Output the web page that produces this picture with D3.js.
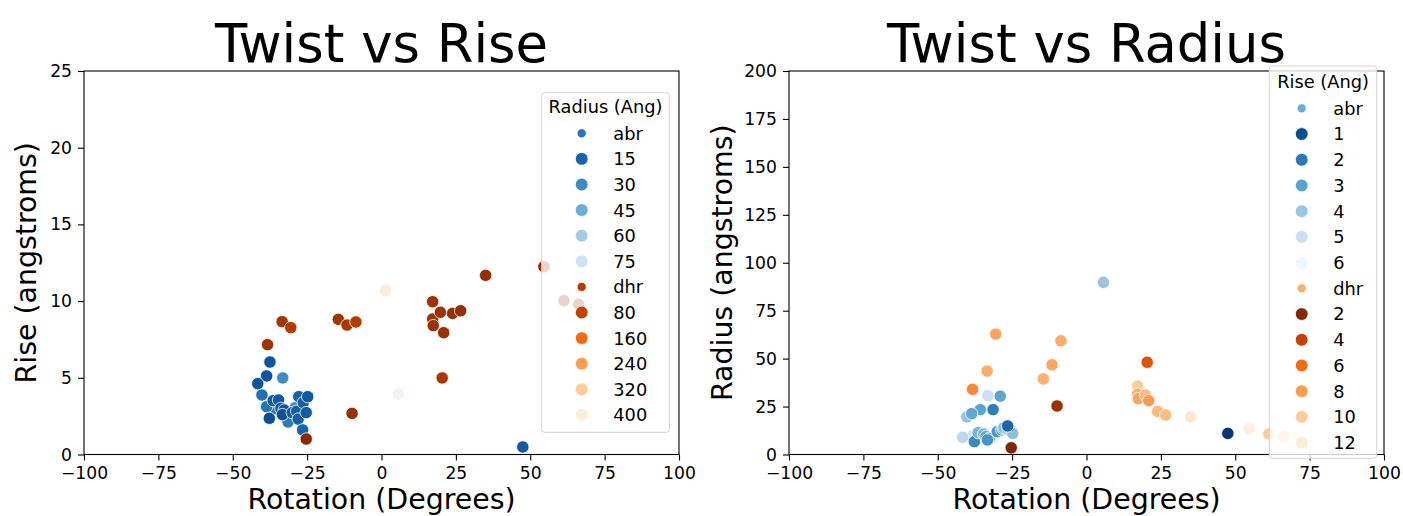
<!DOCTYPE html>
<html><head><meta charset="utf-8">
<script src="https://cdn.jsdelivr.net/npm/d3@7"></script>
<style>
body{margin:0;background:#fff}
svg text{font-family:"DejaVu Sans",sans-serif;fill:#000}
</style>
</head><body>
<svg id="c" width="1403" height="516"></svg>
<script>
// ---- data ----
const abrRotation = [-29.0,-35.7,-33.2,-40.2,-38.6,-31.4,-37.5,-38.6,-41.6,-37.7,-36.4,-34.6,-33.8,-32.7,-33.3,-30.0,-28.5,-28.0,-27.8,-26.3,-25.3,-24.8,-26.5,5.7,47.5];
const abrRise     = [3.05,3.0,4.99,3.88,3.12,2.12,6.03,5.12,4.62,2.36,3.51,3.55,3.01,2.9,2.6,2.73,2.82,2.31,3.77,3.38,2.73,3.77,1.6,3.94,0.49];
const abrRadius   = [30.4,23.4,30.7,19.6,21.3,23.4,8.4,9.5,9.0,6.7,11.4,10.7,9.3,8.4,7.6,11.9,12.8,13.5,14.0,13.0,12.0,11.0,14.9,89.8,11.0];

const dhrRotation = [-38.3,-33.4,-30.5,-14.5,-11.6,-8.6,-9.9,-25.3,17.2,17.2,17.4,19.8,20.9,23.9,26.6,20.4,35.0,54.6,61.3,66.3,1.4];
const dhrRise     = [7.16,8.66,8.27,8.81,8.44,8.64,2.68,1.01,9.96,8.83,8.4,9.27,7.94,9.2,9.37,4.99,11.68,12.24,10.03,9.79,10.68];
const dhrRadius   = [34.0,43.5,62.8,39.4,46.8,59.3,25.3,3.5,35.7,31.5,29.1,31.0,28.1,22.5,20.6,48.1,19.6,13.5,10.7,9.3,400];

const xTicks = [-100,-75,-50,-25,0,25,50,75,100];
const riseTicks = [0,5,10,15,20,25];
const radiusTicks = [0,25,50,75,100,125,150,175,200];
const radiusLegendAbr = [15,30,45,60,75];
const radiusLegendDhr = [80,160,240,320,400];
const riseLegendAbr = [1,2,3,4,5,6];
const riseLegendDhr = [2,4,6,8,10,12];

// ---- colour scales ----
const tRadAbr = d3.scaleLinear().domain([0,95]).range([0.95,0]).clamp(true);
const tRadDhr = d3.scaleLinear().domain([0,435]).range([0.98,0]).clamp(true);
const tRiseAbr = d3.scaleLinear().domain([0.353,6.235]).range([1,0]).clamp(true);
const tRiseDhr = d3.scaleLinear().domain([1.778,12.89]).range([1,0]).clamp(true);
const colRadAbr = v => d3.interpolateBlues(tRadAbr(v));
const colRadDhr = v => d3.interpolateOranges(tRadDhr(v));
const colRiseAbr = v => d3.interpolateBlues(tRiseAbr(v));
const colRiseDhr = v => d3.interpolateOranges(tRiseDhr(v));

const svg = d3.select("#c");
const plotTop = 71, plotBottom = 454.5;

function panel(cfg){
  const x = d3.scaleLinear().domain([-100,100]).range([cfg.x0,cfg.x1]);
  const y = d3.scaleLinear().domain(cfg.yDomain).range([plotBottom,plotTop]);
  const g = svg.append("g");
  const clipId = "clip"+cfg.id;
  g.append("clipPath").attr("id",clipId).append("rect")
    .attr("x",cfg.x0).attr("y",plotTop).attr("width",cfg.x1-cfg.x0).attr("height",plotBottom-plotTop);
  const pts = g.append("g").attr("clip-path",`url(#${clipId})`);
  const abr = abrRotation.map((r,i)=>({x:r, y:cfg.yAbr[i], c:cfg.cAbr(cfg.vAbr[i])}));
  const dhr = dhrRotation.map((r,i)=>({x:r, y:cfg.yDhr[i], c:cfg.cDhr(cfg.vDhr[i])}));
  [abr,dhr].forEach(arr=>{
    pts.selectAll(null).data(arr).enter().append("circle")
      .attr("cx",d=>x(d.x)).attr("cy",d=>y(d.y)).attr("r",6.2)
      .attr("fill",d=>d.c).attr("stroke","#fff").attr("stroke-width",0.8);
  });
  // axes
  const xa = g.append("g").attr("transform",`translate(0,${plotBottom})`)
    .call(d3.axisBottom(x).tickValues(xTicks).tickSize(6).tickPadding(6).tickFormat(d=>d<0?"\u2212"+Math.abs(d):d));
  const ya = g.append("g").attr("transform",`translate(${cfg.x0},0)`)
    .call(d3.axisLeft(y).tickValues(cfg.yTicks).tickSize(6).tickPadding(6));
  [xa,ya].forEach(a=>{
    a.select(".domain").remove();
    a.selectAll("line").attr("stroke","#000").attr("stroke-width",1.1);
    a.selectAll("text").style("font-size","17.2px").attr("fill","#000");
  });
  g.append("rect").attr("x",cfg.x0).attr("y",plotTop).attr("width",cfg.x1-cfg.x0).attr("height",plotBottom-plotTop)
    .attr("fill","none").attr("stroke","#000").attr("stroke-width",1.1);
  // titles
  const cx = (cfg.x0+cfg.x1)/2;
  g.append("text").attr("x",cx).attr("y",62).attr("text-anchor","middle").style("font-size","52.8px").text(cfg.title);
  g.append("text").attr("x",cx).attr("y",509).attr("text-anchor","middle").style("font-size","28.4px").text("Rotation (Degrees)");
  g.append("text").attr("transform",`translate(${cfg.ylabX},${(plotTop+plotBottom)/2}) rotate(-90)`)
    .attr("text-anchor","middle").style("font-size","28.4px").text(cfg.ylabel);
  // legend
  const L = cfg.legend;
  const lg = g.append("g");
  lg.append("rect").attr("x",L.x0).attr("y",L.y0).attr("width",L.x1-L.x0).attr("height",L.y1-L.y0)
    .attr("rx",3).attr("fill","#fff").attr("fill-opacity",0.8).attr("stroke","#d4d4d4").attr("stroke-width",1);
  lg.append("text").attr("x",(L.x0+L.x1)/2).attr("y",L.titleY).attr("dy","0.36em")
    .attr("text-anchor","middle").style("font-size","17.8px").text(L.title);
  const rows = [{t:"abr",c:L.abrColor,r:4.6}]
    .concat(L.abrVals.map(v=>({t:String(v),c:cfg.cAbr(v),r:6.4})))
    .concat([{t:"dhr",c:L.dhrColor,r:4.6}])
    .concat(L.dhrVals.map(v=>({t:String(v),c:cfg.cDhr(v),r:6.4})));
  rows.forEach((d,i)=>{
    const yy = L.row0 + i*L.step;
    lg.append("circle").attr("cx",L.mx).attr("cy",yy).attr("r",d.r).attr("fill",d.c).attr("stroke","#fff").attr("stroke-width",0.8);
    lg.append("text").attr("x",L.tx).attr("y",yy).attr("dy","0.36em").style("font-size","17.8px").text(d.t);
  });
}

panel({id:"L", x0:84, x1:679, yDomain:[0,25], yTicks:riseTicks,
  yAbr:abrRise, vAbr:abrRadius, cAbr:colRadAbr,
  yDhr:dhrRise, vDhr:dhrRadius, cDhr:colRadDhr,
  title:"Twist vs Rise", ylabel:"Rise (angstroms)", ylabX:36,
  legend:{x0:541.7,x1:669.3,y0:92.7,y1:432.3,title:"Radius (Ang)",titleY:106.5,
    row0:133.3, step:25.6, mx:581.7, tx:613.3,
    abrVals:radiusLegendAbr, dhrVals:radiusLegendDhr, abrColor:"#2a74b6", dhrColor:"#b83c02"}
});
panel({id:"R", x0:789, x1:1384, yDomain:[0,200], yTicks:radiusTicks,
  yAbr:abrRadius, vAbr:abrRise, cAbr:colRiseAbr,
  yDhr:dhrRadius, vDhr:dhrRise, cDhr:colRiseDhr,
  title:"Twist vs Radius", ylabel:"Radius (angstroms)", ylabX:732,
  legend:{x0:1269.3,x1:1376.7,y0:66,y1:458.3,title:"Rise (Ang)",titleY:81.7,
    row0:108.3, step:25.72, mx:1301.7, tx:1333.3,
    abrVals:riseLegendAbr, dhrVals:riseLegendDhr, abrColor:"#6aaed6", dhrColor:"#fdae6b"}
});
</script>
</body></html>
